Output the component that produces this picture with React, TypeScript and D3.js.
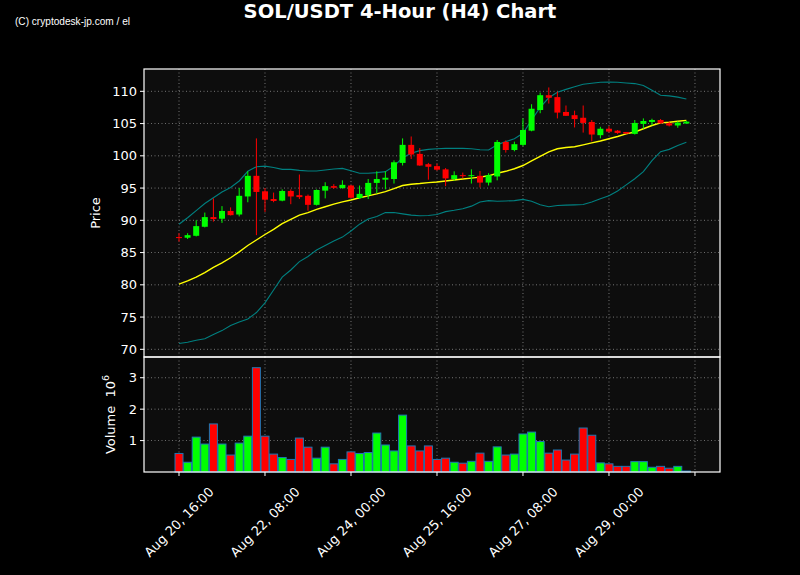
import React from 'react';
import * as d3 from 'd3';

const opens = [87.4, 87.3, 87.6, 89.0, 90.5, 90.25, 91.45, 90.9, 93.7, 96.9, 94.5, 93.3, 93.05, 94.55, 93.9, 93.8, 92.4, 94.6, 95.3, 95.0, 95.4, 93.45, 93.9, 95.8, 96.3, 96.4, 98.9, 101.7, 100.3, 98.7, 98.4, 97.9, 96.4, 97.0, 96.85, 96.9, 95.85, 96.8, 102.15, 100.9, 101.7, 103.9, 107.1, 109.4, 109.1, 106.8, 106.3, 105.9, 105.25, 103.2, 104.2, 103.9, 103.7, 103.4, 104.95, 105.25, 105.55, 105.05, 104.7, 105.0];
const closes = [87.3, 87.7, 89.1, 90.5, 90.2, 91.45, 90.8, 93.8, 96.9, 94.4, 93.2, 93.0, 94.55, 93.7, 93.6, 92.4, 94.7, 95.3, 95.05, 95.5, 93.5, 94.1, 95.8, 96.4, 96.6, 99.0, 101.7, 100.2, 98.5, 98.3, 97.85, 96.5, 97.0, 96.9, 97.0, 95.85, 97.0, 102.15, 100.9, 101.8, 104.0, 107.3, 109.4, 109.0, 106.7, 106.2, 105.7, 105.1, 103.3, 104.2, 103.75, 103.55, 103.45, 105.1, 105.4, 105.55, 105.05, 104.7, 105.15, 105.3];
const highs = [88.0, 88.0, 90.0, 91.2, 93.4, 92.2, 92.0, 95.0, 97.6, 102.7, 95.0, 94.3, 94.8, 94.8, 97.1, 94.0, 94.8, 95.9, 95.6, 96.2, 95.5, 95.4, 96.4, 97.6, 97.6, 99.3, 102.7, 103.0, 101.2, 98.9, 98.8, 98.1, 97.6, 97.4, 97.9, 97.65, 97.3, 102.45, 102.4, 102.2, 105.8, 108.0, 109.8, 110.6, 109.95, 107.8, 107.0, 107.8, 105.55, 104.5, 104.6, 104.0, 103.7, 105.55, 105.8, 105.75, 105.7, 105.3, 105.35, 105.4];
const lows = [86.7, 87.1, 87.5, 88.9, 89.8, 89.6, 90.75, 90.6, 92.8, 87.7, 91.3, 92.8, 92.95, 92.5, 93.3, 91.5, 92.3, 93.4, 94.9, 94.9, 93.4, 93.3, 93.3, 94.2, 94.8, 95.7, 98.5, 99.5, 98.45, 96.3, 97.7, 95.3, 96.15, 96.5, 95.7, 95.1, 95.4, 96.2, 100.5, 100.7, 101.5, 103.8, 106.6, 108.1, 105.8, 106.2, 104.4, 103.6, 102.25, 102.7, 103.6, 103.4, 103.4, 103.3, 104.2, 104.7, 105.0, 104.55, 104.35, 105.0];
const volumes = [0.59, 0.31, 1.11, 0.89, 1.53, 0.89, 0.54, 0.92, 1.14, 3.32, 1.14, 0.57, 0.46, 0.40, 1.08, 0.79, 0.44, 0.79, 0.26, 0.40, 0.64, 0.59, 0.62, 1.24, 0.86, 0.67, 1.81, 0.83, 0.67, 0.83, 0.40, 0.44, 0.31, 0.28, 0.34, 0.60, 0.34, 0.80, 0.54, 0.57, 1.21, 1.27, 0.97, 0.60, 0.70, 0.38, 0.57, 1.40, 1.17, 0.29, 0.26, 0.18, 0.18, 0.33, 0.33, 0.15, 0.18, 0.12, 0.18, 0.03];
const smaLine = [80.1, 80.6, 81.2, 81.9, 82.7, 83.4, 84.2, 85.1, 86.1, 86.95, 87.8, 88.6, 89.5, 90.15, 90.8, 91.2, 91.7, 92.1, 92.5, 92.85, 93.15, 93.5, 93.8, 94.1, 94.45, 94.9, 95.4, 95.6, 95.7, 95.85, 95.95, 96.1, 96.25, 96.4, 96.55, 96.7, 96.9, 97.3, 97.6, 98.0, 98.5, 99.2, 99.9, 100.6, 101.1, 101.3, 101.4, 101.7, 102.0, 102.3, 102.65, 103.0, 103.4, 103.7, 104.2, 104.7, 105.1, 105.2, 105.35, 105.5];
const upperBand = [89.4, 90.4, 91.5, 92.6, 93.5, 94.4, 95.1, 96.1, 97.6, 98.3, 98.4, 98.2, 97.9, 97.9, 97.75, 97.65, 97.65, 97.8, 97.95, 98.05, 97.7, 97.3, 97.3, 97.4, 97.55, 98.4, 99.7, 100.4, 100.8, 101.0, 101.1, 101.15, 101.15, 101.15, 101.1, 100.95, 100.9, 101.7, 102.2, 102.65, 103.5, 105.55, 107.5, 109.0, 109.85, 110.3, 110.7, 111.1, 111.25, 111.4, 111.45, 111.4, 111.3, 111.2, 110.9, 110.15, 109.4, 109.3, 109.1, 108.8];
const lowerBand = [70.9, 71.1, 71.4, 71.65, 72.3, 72.9, 73.7, 74.25, 74.7, 75.7, 77.2, 79.2, 81.2, 82.3, 83.6, 84.4, 85.4, 86.1, 86.8, 87.4, 88.35, 89.4, 90.2, 90.6, 91.2, 91.2, 91.0, 90.8, 90.7, 90.75, 90.9, 91.35, 91.55, 91.8, 92.2, 92.85, 93.05, 92.95, 93.0, 93.05, 93.25, 92.95, 92.4, 92.1, 92.3, 92.35, 92.4, 92.45, 92.85, 93.35, 93.8, 94.55, 95.5, 96.45, 97.55, 99.25, 100.65, 101.0, 101.6, 102.1];
const priceTicks = [70, 75, 80, 85, 90, 95, 100, 105, 110];
const volumeTicks = [1, 2, 3];
const xTickSteps = [0, 10, 20, 30, 40, 50, 60];
const xTickLabelCount = 6;

const START = Date.UTC(2021, 7, 20, 16);
const STEP = 4 * 3600 * 1000;
const t = (i: number) => new Date(START + i * STEP);
const dates = opens.map((_, i) => t(i));

const L = 144, R = 720, PT = 69, PB = 357, VT = 357, VB = 472;

export default function App() {
  const x = d3.scaleUtc().domain([t(-4.07), t(62.91)]).range([L, R]);
  const y = d3.scaleLinear().domain([68.81, 113.46]).range([PB, PT]);
  const yv = d3.scaleLinear().domain([0, 3.66]).range([VB, VT]);
  const fmt = d3.utcFormat('%b %d, %H:%M');
  const mk = (arr: number[]) =>
    d3.line<number>().x((_, i) => x(dates[i])).y((d) => y(d))(arr) || '';
  const font = 'DejaVu Sans, sans-serif';
  const grid = { stroke: '#b0b0b0', strokeWidth: 0.8, strokeDasharray: '1,2.5', opacity: 0.8 };
  const xt = xTickSteps.map(t);
  return (
    <svg width={800} height={575} style={{ display: 'block', position: 'absolute', left: 0, top: 0, background: '#000' }} fontFamily={font}>
      <rect x={0} y={0} width={800} height={575} fill="#000" />
      <text x={400} y={18} fill="#fff" fontSize={19.5} fontWeight="bold" textAnchor="middle">SOL/USDT 4-Hour (H4) Chart</text>
      <text x={15} y={25} fill="#fff" fontSize={11} textLength={115} lengthAdjust="spacingAndGlyphs"
        fontFamily="Liberation Sans Narrow, Liberation Sans, sans-serif">(C) cryptodesk-jp.com / el</text>

      <rect x={L} y={PT} width={R - L} height={PB - PT} fill="#0d0d0d" />
      <rect x={L} y={VT} width={R - L} height={VB - VT} fill="#0d0d0d" />

      {priceTicks.map((p) => (
        <line key={'pg' + p} x1={L} x2={R} y1={y(p)} y2={y(p)} {...grid} />
      ))}
      {volumeTicks.map((v) => (
        <line key={'vg' + v} x1={L} x2={R} y1={yv(v)} y2={yv(v)} {...grid} />
      ))}
      {xt.map((d, k) => (
        <g key={'xg' + k}>
          <line x1={x(d)} x2={x(d)} y1={PT} y2={PB} {...grid} />
          <line x1={x(d)} x2={x(d)} y1={VT} y2={VB} {...grid} />
        </g>
      ))}

      <path d={mk(upperBand)} fill="none" stroke="#008080" strokeWidth={1.1} />
      <path d={mk(lowerBand)} fill="none" stroke="#008080" strokeWidth={1.1} />
      <path d={mk(smaLine)} fill="none" stroke="#ffff00" strokeWidth={1.4} />

      {dates.map((d, i) => {
        const up = closes[i] >= opens[i];
        const c = up ? '#00ff00' : '#ff0000';
        const cx = x(d);
        const top = y(Math.max(opens[i], closes[i]));
        const bot = y(Math.min(opens[i], closes[i]));
        return (
          <g key={'c' + i}>
            <line x1={cx} x2={cx} y1={y(highs[i])} y2={y(lows[i])} stroke={c} strokeWidth={1} />
            <rect x={cx - 3} y={top} width={6} height={Math.max(bot - top, 1)} fill={c} />
          </g>
        );
      })}

      {dates.map((d, i) => {
        const up = closes[i] >= opens[i];
        return (
          <rect key={'v' + i} x={x(d) - 4} y={yv(volumes[i])} width={8} height={VB - yv(volumes[i])}
            fill={up ? '#00ff00' : '#ff0000'} stroke="#1f77b4" strokeWidth={1} />
        );
      })}

      <rect x={L} y={PT} width={R - L} height={PB - PT} fill="none" stroke="#fff" strokeWidth={1.2} />
      <rect x={L} y={VT} width={R - L} height={VB - VT} fill="none" stroke="#fff" strokeWidth={1.2} />

      {priceTicks.map((p) => (
        <g key={'pt' + p}>
          <line x1={L - 4} x2={L} y1={y(p)} y2={y(p)} stroke="#fff" />
          <text x={L - 7} y={y(p)} dy="0.35em" fill="#fff" fontSize={13} textAnchor="end">{p}</text>
        </g>
      ))}
      {volumeTicks.map((v) => (
        <g key={'vt' + v}>
          <line x1={L - 4} x2={L} y1={yv(v)} y2={yv(v)} stroke="#fff" />
          <text x={L - 7} y={yv(v)} dy="0.35em" fill="#fff" fontSize={13} textAnchor="end">{v}</text>
        </g>
      ))}
      {xt.map((d, k) => (
        <g key={'xt' + k}>
          <line x1={x(d)} x2={x(d)} y1={VB} y2={VB + 4} stroke="#fff" />
          {k < xTickLabelCount && (
            <text transform={`translate(${x(d)},${522}) rotate(-45)`} fill="#fff" fontSize={13} textAnchor="middle" dy="0.35em">{fmt(d)}</text>
          )}
        </g>
      ))}

      <text transform={`translate(100,${(PT + PB) / 2}) rotate(-90)`} fill="#fff" fontSize={13} textAnchor="middle">Price</text>
      <text transform={`translate(115,${(VT + VB) / 2}) rotate(-90)`} fill="#fff" fontSize={13} textAnchor="middle">
        {'Volume\u00a0\u00a010'}<tspan dy="-6" fontSize={9.5}>6</tspan>
      </text>
    </svg>
  );
}
